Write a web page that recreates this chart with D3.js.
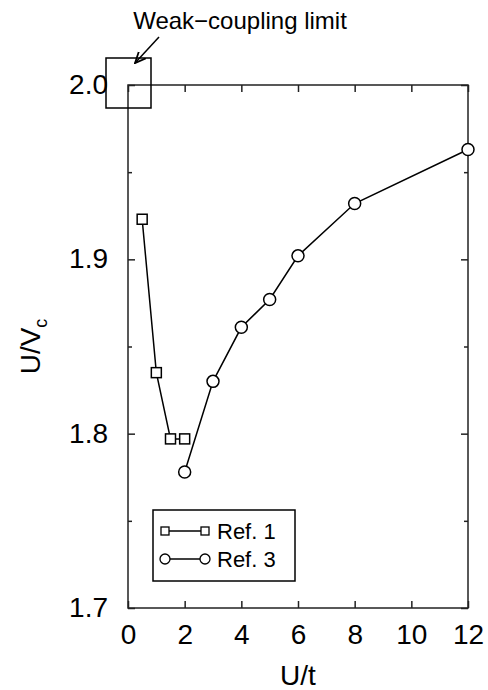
<!DOCTYPE html>
<html lang="en">
  <head>
    <meta charset="UTF-8" />
    <title>U/Vc vs U/t</title>
    <style>
      * {
        margin: 0;
        padding: 0;
      }
      body {
        background: #fff;
      }
      text {
        font-family: 'Liberation Sans', Arial, sans-serif;
      }
    </style>
  </head>
  <body>
    <script src="https://cdn.jsdelivr.net/npm/d3@7/dist/d3.min.js"></script>
    <script>
      // data
      const ref1X = [0.5, 1, 1.5, 2]
      const ref1Y = [1.923, 1.835, 1.797, 1.797]
      const ref3X = [2, 3, 4, 5, 6, 8, 12]
      const ref3Y = [1.778, 1.83, 1.861, 1.877, 1.902, 1.932, 1.963]
      const xTicks = [0, 2, 4, 6, 8, 10, 12]
      const yTicks = [1.7, 1.8, 1.9, 2.0]
      const yMinor = [1.75, 1.85, 1.95]

      const width = 488
      const height = 690
      const m = { left: 128, right: 20, top: 85, bottom: 82 }

      const svg = d3
        .select('body')
        .append('svg')
        .attr('width', width)
        .attr('height', height)

      const x = d3.scaleLinear().domain([0, 12]).range([m.left, width - m.right])
      const y = d3.scaleLinear().domain([1.7, 2.0]).range([height - m.bottom, m.top])

      const axisColor = '#222'

      // ticks, all pointing inward
      const gBottom = svg
        .append('g')
        .attr('transform', `translate(0,${y(1.7)})`)
        .call(d3.axisBottom(x).tickValues(xTicks).tickSize(-7).tickPadding(16).tickFormat(d3.format('d')))
      const gTop = svg
        .append('g')
        .attr('transform', `translate(0,${y(2.0)})`)
        .call(d3.axisTop(x).tickValues(xTicks).tickSize(-7).tickFormat(''))
      const gLeft = svg
        .append('g')
        .attr('transform', `translate(${x(0)},0)`)
        .call(d3.axisLeft(y).tickValues(yTicks).tickSize(-7).tickPadding(20).tickFormat(d3.format('.1f')))
      const gLeftMinor = svg
        .append('g')
        .attr('transform', `translate(${x(0)},0)`)
        .call(d3.axisLeft(y).tickValues(yMinor).tickSize(-4).tickFormat(''))
      const gRight = svg
        .append('g')
        .attr('transform', `translate(${x(12)},0)`)
        .call(d3.axisRight(y).tickValues(yTicks).tickSize(-7).tickFormat(''))
      const gRightMinor = svg
        .append('g')
        .attr('transform', `translate(${x(12)},0)`)
        .call(d3.axisRight(y).tickValues(yMinor).tickSize(-4).tickFormat(''))

      for (const g of [gBottom, gTop, gLeft, gLeftMinor, gRight, gRightMinor]) {
        g.select('.domain').remove()
        g.selectAll('line').attr('stroke', axisColor).attr('stroke-width', 1.5)
        g.selectAll('text').attr('font-size', 28).attr('fill', '#000').style('font-family', "'Liberation Sans', Arial, sans-serif")
      }
      gLeft.selectAll('text').attr('dy', '0.3em')

      // frame
      svg
        .append('rect')
        .attr('x', x(0))
        .attr('y', y(2.0))
        .attr('width', x(12) - x(0))
        .attr('height', y(1.7) - y(2.0))
        .attr('fill', 'none')
        .attr('stroke', axisColor)
        .attr('stroke-width', 1.5)

      // axis titles
      svg
        .append('text')
        .attr('x', (x(0) + x(12)) / 2)
        .attr('y', 685)
        .attr('text-anchor', 'middle')
        .attr('font-size', 28)
        .text('U/t')

      const yTitle = svg
        .append('text')
        .attr('transform', `translate(40,${(y(1.7) + y(2.0)) / 2}) rotate(-90)`)
        .attr('text-anchor', 'middle')
        .attr('font-size', 28)
      yTitle.append('tspan').text('U/V')
      yTitle.append('tspan').attr('font-size', 18).attr('dy', 7).text('c')

      // series
      const ref1 = ref1X.map((d, i) => [d, ref1Y[i]])
      const ref3 = ref3X.map((d, i) => [d, ref3Y[i]])
      const line = d3
        .line()
        .x((d) => x(d[0]))
        .y((d) => y(d[1]))

      svg.append('path').datum(ref1).attr('d', line).attr('fill', 'none').attr('stroke', '#000').attr('stroke-width', 1.5)
      svg.append('path').datum(ref3).attr('d', line).attr('fill', 'none').attr('stroke', '#000').attr('stroke-width', 1.5)

      const sq = 10
      svg
        .selectAll('.sq')
        .data(ref1)
        .join('rect')
        .attr('x', (d) => x(d[0]) - sq / 2)
        .attr('y', (d) => y(d[1]) - sq / 2)
        .attr('width', sq)
        .attr('height', sq)
        .attr('fill', '#fff')
        .attr('stroke', '#000')
        .attr('stroke-width', 1.5)

      svg
        .selectAll('.ci')
        .data(ref3)
        .join('circle')
        .attr('cx', (d) => x(d[0]))
        .attr('cy', (d) => y(d[1]))
        .attr('r', 6)
        .attr('fill', '#fff')
        .attr('stroke', '#000')
        .attr('stroke-width', 1.5)

      // legend
      const lg = svg.append('g').attr('transform', 'translate(153,510)')
      lg.append('rect').attr('width', 142).attr('height', 71).attr('fill', '#fff').attr('stroke', '#000').attr('stroke-width', 1.5)
      const rows = [
        { label: 'Ref. 1', shape: 'square', yy: 21 },
        { label: 'Ref. 3', shape: 'circle', yy: 49 }
      ]
      rows.forEach((r) => {
        lg.append('line').attr('x1', 12).attr('x2', 52).attr('y1', r.yy).attr('y2', r.yy).attr('stroke', '#000').attr('stroke-width', 1.5)
        for (const cx of [12, 52]) {
          if (r.shape === 'square') {
            lg.append('rect').attr('x', cx - 4).attr('y', r.yy - 4).attr('width', 8).attr('height', 8).attr('fill', '#fff').attr('stroke', '#000').attr('stroke-width', 1.3)
          } else {
            lg.append('circle').attr('cx', cx).attr('cy', r.yy).attr('r', 5).attr('fill', '#fff').attr('stroke', '#000').attr('stroke-width', 1.3)
          }
        }
        lg.append('text').attr('x', 64).attr('y', r.yy + 8).attr('font-size', 22).text(r.label)
      })

      // weak-coupling annotation
      svg
        .append('rect')
        .attr('x', x(0) - 22)
        .attr('y', y(2.0) - 27)
        .attr('width', 45)
        .attr('height', 50)
        .attr('fill', 'none')
        .attr('stroke', '#000')
        .attr('stroke-width', 1.5)

      svg
        .append('defs')
        .append('marker')
        .attr('id', 'arr')
        .attr('viewBox', '0 0 10 10')
        .attr('refX', 9)
        .attr('refY', 5)
        .attr('markerWidth', 8)
        .attr('markerHeight', 8)
        .attr('orient', 'auto')
        .append('path')
        .attr('d', 'M0,1 L9,5 L0,9')
        .attr('fill', 'none')
        .attr('stroke', '#000')
        .attr('stroke-width', 1.5)

      svg
        .append('line')
        .attr('x1', 159)
        .attr('y1', 37)
        .attr('x2', 135)
        .attr('y2', 63)
        .attr('stroke', '#000')
        .attr('stroke-width', 1.5)
        .attr('marker-end', 'url(#arr)')

      svg
        .append('text')
        .attr('x', 240)
        .attr('y', 29)
        .attr('text-anchor', 'middle')
        .attr('font-size', 24)
        .text('Weak\u2212coupling limit')
    </script>
  </body>
</html>
